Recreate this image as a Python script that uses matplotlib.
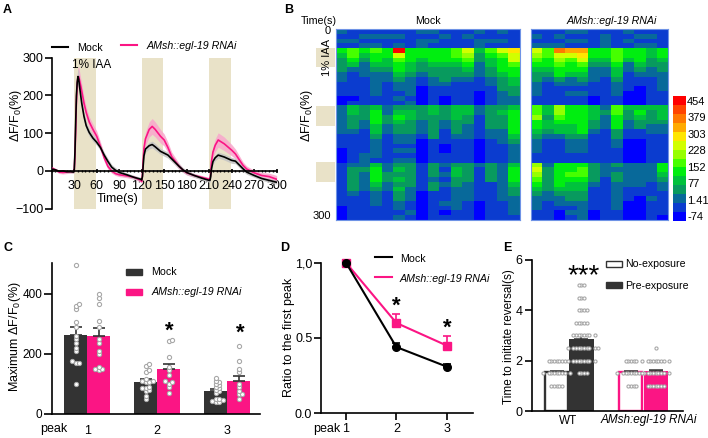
import numpy as np
import matplotlib
matplotlib.use('Agg')
import matplotlib.pyplot as plt
from matplotlib.colors import ListedColormap
from matplotlib.lines import Line2D
from matplotlib.patches import Rectangle

plt.rcParams['font.family'] = ['Liberation Sans', 'DejaVu Sans']
plt.rcParams['mathtext.default'] = 'regular'
plt.rcParams['axes.linewidth'] = 1.2

W, H = 708, 438
DARK = '#333333'
PINK = '#fb1584'
BEIGE = '#e9e2c8'
GREY = '#a8a8a8'

# panel A
t = [0, 5, 10, 15, 20, 25, 29, 30, 31, 32, 33, 34, 35, 36, 38, 40, 43, 46, 50, 55, 60, 65, 70, 75, 80, 85, 90, 100, 110, 119,
     120, 121, 122, 123, 125, 130, 134, 138, 145, 150, 155, 160, 165, 170, 175, 180, 190, 200, 210, 211,
     212, 213, 215, 218, 222, 230, 240, 245, 250, 255, 260, 270, 280, 290, 300]
mock_trace = [5, 3, -1, 0, -2, -2, -3, 0, 50, 130, 200, 235, 250, 243, 210, 180, 145, 120, 102, 87, 76, 62, 42, 25, 10, 2, -4, -10, -17, -22,
              -24, -15, 15, 40, 58, 67, 70, 64, 52, 47, 42, 32, 22, 12, 3, -4, -12, -19, -25, -25,
              -15, 5, 25, 35, 42, 37, 28, 26, 16, 6, -3, -12, -20, -25, -30]
rnai_trace = [8, 3, -3, -4, -3, -2, -2, 0, 40, 110, 190, 230, 248, 250, 232, 212, 180, 155, 130, 110, 92, 65, 35, 12, 0, -7, -10, -13, -17, -25,
              -28, -10, 30, 60, 85, 110, 118, 110, 92, 82, 62, 38, 25, 12, 2, -5, -12, -17, -22, -22,
              -5, 25, 50, 68, 82, 72, 55, 45, 30, 15, 5, -5, -12, -15, -22]
mock_sem = [3, 3, 3, 3, 3, 3, 3, 3, 6, 12, 18, 20, 22, 20, 16, 14, 12, 11, 10, 9, 8, 8, 8, 8, 7, 7, 6, 5, 5, 5,
            5, 5, 6, 7, 8, 9, 9, 9, 8, 8, 8, 8, 7, 7, 6, 6, 5, 5, 5, 5,
            5, 6, 7, 8, 8, 8, 8, 7, 7, 7, 6, 5, 5, 5, 5]
rnai_sem = [4, 4, 4, 4, 4, 4, 4, 4, 8, 14, 20, 24, 26, 26, 22, 20, 16, 15, 14, 14, 14, 12, 10, 8, 6, 5, 5, 5, 5, 5,
            5, 6, 10, 14, 18, 20, 21, 20, 18, 16, 14, 12, 10, 8, 6, 6, 5, 5, 5, 5,
            6, 10, 14, 17, 19, 18, 15, 13, 11, 9, 8, 7, 8, 9, 10]
stim_starts = [30, 120, 210]
stim_len = 29

# panel B, one string per animal, one level per row of 7.5 s
mock_cols = [
    '2121' '543332211100' '222222111000' '111111111000',
    '1121' '665421111101' '443332111111' '233333211111',
    '1212' '543222111111' '333221111122' '232222111111',
    '1212' '655432222211' '455544322221' '455543222111',
    '1211' '554432211111' '223322111111' '223322111111',
    '1212' 'd86554322121' '345433221212' '343434332212',
    '1111' '555443222212' '344333221212' '333332221121',
    '2122' '554332110000' '333222100000' '111111000000',
    '2121' '555433221111' '443333311111' '333233111111',
    '1211' '555433321100' '333221110011' '212121112101',
    '1111' '665433211111' '444333211111' '344332222211',
    '1211' '876543211111' '443322211111' '333322221111',
    '2122' '433222111000' '221111100000' '211111110000',
    '1121' '654433221111' '333332211111' '333311111111',
    '2121' '865554333222' '343332221111' '222222221111',
    '1111' '988655443322' '455555432222' '455543322221',
]
rnai_cols = [
    '1212' '876543322211' '667554322211' '787654322211',
    '1112' '665543211111' '443443211111' '233333221111',
    '1212' 'b87655321111' '776544211111' '555554322100',
    '2121' 'a86554221211' '555544322211' '556544332121',
    '2121' 'a98654321211' '555555322211' '566544332222',
    '1111' '554322211100' '444332111111' '333321111100',
    '1222' '554322111111' '232221111111' '222111111111',
    '1111' '666544322211' '665553322111' '323322222211',
    '2121' '554221111000' '433221100000' '222221110000',
    '1212' '555432110000' '454331100000' '222221100000',
    '1212' '443322111111' '433322111111' '222211121111',
    '1111' '554332222111' '444322111111' '554322111110',
]
level_colors = ['#0000ff', '#0b3ccf', '#08699a', '#089a5e', '#00c23c', '#00ee10', '#46ff00',
                '#96ff00', '#d2ff00', '#ffe600', '#ffaa00', '#ff7800', '#ff4400', '#ff0000']
cbar_labels = ['-74', '1.41', '77', '152', '228', '303', '379', '454']
stim_rows = [(47.7, 67.3), (106.3, 126.3), (162.3, 182.3)]

# panel C
peaks = ['1', '2', '3']
max_mock = [263, 107, 75]
max_mock_err = [25, 8, 8]
max_rnai = [258, 150, 110]
max_rnai_err = [27, 17, 16]
dots_mock = [[495, 365, 360, 350, 305, 290, 260, 250, 235, 220, 210, 175, 170, 170, 100],
             [165, 160, 145, 140, 115, 110, 108, 105, 105, 90, 85, 85, 80, 75, 60, 50],
             [120, 110, 105, 100, 95, 90, 85, 80, 75, 70, 50, 48, 45, 42, 40, 38]]
dots_rnai = [[400, 385, 365, 310, 290, 250, 235, 210, 200, 155, 150, 150, 145],
             [245, 243, 190, 155, 145, 130, 108, 105, 100, 90, 70],
             [225, 175, 150, 140, 100, 90, 75, 65, 65, 50]]

# panel D
ratio_mock = [1.0, 0.44, 0.31]
ratio_mock_err = [0.0, 0.03, 0.02]
ratio_rnai = [1.0, 0.60, 0.45]
ratio_rnai_err = [0.0, 0.06, 0.06]

# panel E
rev_groups = ['WT', 'AMsh:egl-19 RNAi']
rev_no = [1.55, 1.55]
rev_no_err = [0.05, 0.04]
rev_pre = [2.85, 1.6]
rev_pre_err = [0.12, 0.04]
rev_dots_no = [[1.0] * 5 + [1.5] * 9 + [2.0] * 7,
               [1.0] * 4 + [1.5] * 9 + [2.0] * 5]
rev_dots_pre = [[1.5] * 4 + [2.0] * 9 + [2.5] * 10 + [3.0] * 8 + [3.5] * 5 + [4.0] * 4 + [4.5] * 3 + [5.0] * 3,
                [1.0] * 7 + [1.5] * 9 + [2.0] * 9 + [2.5]]


def px_axes(left, top, right, bottom):
    return fig.add_axes([left / W, 1 - bottom / H, (right - left) / W, (bottom - top) / H])


def label(x, y, s, **kw):
    kw.setdefault('fontsize', 9)
    kw.setdefault('va', 'center')
    fig.text(x / W, 1 - y / H, s, **kw)


def legend_line(x0, x1, y, color):
    fig.add_artist(Line2D([x0 / W, x1 / W], [1 - y / H, 1 - y / H], color=color, lw=1.5))


def legend_box(x0, x1, y0, y1, face, edge):
    fig.add_artist(Rectangle((x0 / W, 1 - y1 / H), (x1 - x0) / W, (y1 - y0) / H, facecolor=face,
                             edgecolor=edge, lw=1.0, transform=fig.transFigure))


def swarm(values, center, step, yscale):
    # greedy dodge so the dots do not sit on each other
    placed = []
    for v in sorted(values):
        for k in range(60):
            off = ((k + 1) // 2) * step * (1 if k % 2 else -1)
            if all(np.hypot((off - o) / step, (v - w) / yscale) >= 1 for o, w in placed):
                placed.append((off, v))
                break
    return [center + o for o, w in placed], [w for o, w in placed]


def clean(ax):
    for s in ['top', 'right']:
        ax.spines[s].set_visible(False)
    ax.patch.set_alpha(0)


fig = plt.figure(figsize=(W / 100, H / 100), dpi=100)

# A
ax = px_axes(51.7, 57.7, 276.7, 208.7)
clean(ax)
for s in stim_starts:
    ax.axvspan(s, s + stim_len, color=BEIGE, lw=0, zorder=0)
t_arr = np.array(t)
for tr, sem, c, band in [(rnai_trace, rnai_sem, PINK, '#f9a6cc'), (mock_trace, mock_sem, 'black', '#c4c4c4')]:
    tr = np.array(tr)
    sem = np.array(sem)
    ax.fill_between(t_arr, tr - sem, tr + sem, color=band, alpha=0.85, lw=0, zorder=2)
    ax.plot(t_arr, tr, color=c, lw=1.2, zorder=3)
ax.set_xlim(0, 300)
ax.set_ylim(-100, 300)
ax.spines['bottom'].set_position(('data', 0))
ax.spines['bottom'].set_zorder(5)
ax.set_xticks(range(30, 301, 30))
ax.set_xticks(range(0, 301, 5), minor=True)
ax.set_yticks([-100, 0, 100, 200, 300])
ax.tick_params(axis='x', which='major', length=3, width=1.2, labelsize=9, pad=5, direction='inout')
ax.tick_params(axis='x', which='minor', length=2, width=1, direction='inout')
ax.tick_params(axis='y', length=5, width=1.2, labelsize=9, pad=1)
label(15.5, 115, r'ΔF/F$_0$(%)', rotation=90, ha='center')
label(118, 199.5, 'Time(s)', ha='center')
label(92, 65, '1% IAA', ha='center', fontsize=8.5)
legend_line(52, 68, 47, 'black')
label(77, 48, 'Mock', fontsize=7.7)
legend_line(121, 137, 44.5, PINK)
label(147, 46, 'AMsh::egl-19 RNAi', fontsize=7.7, style='italic')

# B
cmap = ListedColormap(level_colors)
for cols, box in [(mock_cols, (336, 29.3, 519.7, 220)), (rnai_cols, (531, 29.3, 668.3, 220))]:
    ax = px_axes(*box)
    grid = np.array([[int(ch, 16) for ch in col] for col in cols]).T
    ax.imshow(grid, cmap=cmap, vmin=-0.5, vmax=13.5, aspect='auto', interpolation='nearest')
    ax.set_xticks([])
    ax.set_yticks([])
    for s in ax.spines.values():
        s.set_color('#6f93e6')
        s.set_linewidth(0.8)
for y0, y1 in stim_rows:
    fig.add_artist(Rectangle((316 / W, 1 - y1 / H), 19 / W, (y1 - y0) / H, facecolor=BEIGE, lw=0,
                             transform=fig.transFigure))
label(319, 21, 'Time(s)', ha='center', fontsize=7.7)
label(428, 21, 'Mock', ha='center', fontsize=7.7)
label(611.7, 21, 'AMsh::egl-19 RNAi', ha='center', fontsize=7.7, style='italic')
label(331, 31, '0', ha='right', fontsize=8)
label(331, 216, '300', ha='right', fontsize=8)
label(326.5, 57, '1% IAA', ha='center', rotation=90, fontsize=8)
label(307, 115, r'ΔF/F$_0$(%)', ha='center', rotation=90)

cax = px_axes(672.7, 96, 685, 220.7)
cax.imshow(np.arange(14)[:, None], cmap=cmap, vmin=-0.5, vmax=13.5, origin='lower', aspect='auto',
           extent=(0, 1, -95.5, 477))
cax.set_xticks([])
cax.yaxis.tick_right()
cax.set_yticks(np.linspace(-74, 454, 8))
cax.set_yticklabels(cbar_labels)
cax.tick_params(axis='y', length=0, labelsize=8, pad=1.5)
for s in cax.spines.values():
    s.set_visible(False)

# C
ax = px_axes(52.3, 262.7, 260, 413.7)
clean(ax)
x = np.arange(1, 4)
bw = 0.33
ax.bar(x - bw / 2, max_mock, bw, color=DARK, lw=0, zorder=1)
ax.bar(x + bw / 2, max_rnai, bw, color=PINK, lw=0, zorder=1)
ax.errorbar(x - bw / 2, max_mock, yerr=[[0] * 3, max_mock_err], fmt='none', ecolor=DARK, elinewidth=1.2, capsize=4,
            capthick=1.2, zorder=2)
ax.errorbar(x + bw / 2, max_rnai, yerr=[[0] * 3, max_rnai_err], fmt='none', ecolor=DARK, elinewidth=1.2, capsize=4,
            capthick=1.2, zorder=2)
for i in range(3):
    for vals, cx in [(dots_mock[i], x[i] - bw / 2), (dots_rnai[i], x[i] + bw / 2)]:
        dx, dy = swarm(vals, cx, 0.05, 10)
        ax.scatter(dx, dy, s=9, facecolor='white', edgecolor=GREY, lw=0.8, zorder=3, clip_on=False)
ax.set_xlim(0.5, 3.467)
ax.set_ylim(0, 503)
ax.set_yticks([0, 200, 400])
ax.set_xticks(x)
ax.set_xticklabels(peaks)
ax.tick_params(axis='x', length=0, labelsize=9, pad=8)
ax.tick_params(axis='y', length=6, width=1.2, labelsize=8.5, pad=1)
label(15, 337, r'Maximum ΔF/F$_0$(%)', rotation=90, ha='center')
label(40, 429, 'peak')
for px_x, py in [(169, 331), (240, 333)]:
    label(px_x, py, '*', ha='center', fontsize=16, fontweight='bold')
legend_box(125.7, 142.3, 269, 275, DARK, DARK)
label(151, 272, 'Mock', fontsize=7.7)
legend_box(125.7, 142.3, 289, 295, PINK, PINK)
label(151.5, 292, 'AMsh::egl-19 RNAi', fontsize=7.7, style='italic')

# D
ax = px_axes(321.3, 262.7, 472.7, 413.3)
clean(ax)
ax.errorbar(x, ratio_mock, yerr=[[0] * 3, ratio_mock_err], color='black', marker='o', ms=5.5, lw=1.5,
            elinewidth=1.2, capsize=3, capthick=1.2, zorder=3, clip_on=False)
ax.errorbar(x, ratio_rnai, yerr=[[0] * 3, ratio_rnai_err], color=PINK, marker='s', ms=5.5, lw=1.5,
            elinewidth=1.2, capsize=3, capthick=1.2, zorder=2, clip_on=False)
ax.set_xlim(1 - 24.7 / 50.35, 3 + 26 / 50.35)
ax.set_ylim(0, 1)
ax.set_yticks([0, 0.5, 1])
ax.set_yticklabels(['0.0', '0.5', '1,0'])
ax.set_xticks(x)
ax.set_xticklabels(peaks)
ax.tick_params(axis='x', length=5, width=1.2, labelsize=9, pad=2)
ax.tick_params(axis='y', length=5, width=1.2, labelsize=9, pad=1.5)
label(289, 337, 'Ratio to the first peak', rotation=90, ha='center')
label(313, 429, 'peak')
for px_x, py in [(396.7, 306), (447, 328)]:
    label(px_x, py, '*', ha='center', fontsize=16, fontweight='bold')
legend_line(375, 391.7, 257.3, 'black')
label(400, 258.7, 'Mock', fontsize=7.7)
legend_line(375, 391.7, 277, PINK)
label(400, 279, 'AMsh::egl-19 RNAi', fontsize=7.7, style='italic')

# E
ax = px_axes(531.7, 259.7, 682.7, 411)
clean(ax)
centers = [0, 74.3]
be = 24.7
for i, cx in enumerate(centers):
    edge = DARK if i == 0 else PINK
    ax.bar(cx - be / 2 - 0.3, rev_no[i], be - 1.6, facecolor='white', edgecolor=edge, lw=1.7, zorder=1)
    ax.bar(cx + be / 2 + 0.3, rev_pre[i], be, color=edge, lw=0, zorder=1)
    ax.errorbar(cx - be / 2, rev_no[i], yerr=[[0], [rev_no_err[i]]], fmt='none', ecolor=DARK, elinewidth=1.1,
                capsize=5, capthick=1.1, zorder=2)
    ax.errorbar(cx + be / 2, rev_pre[i], yerr=[[0], [rev_pre_err[i]]], fmt='none', ecolor=DARK, elinewidth=1.1,
                capsize=5, capthick=1.1, zorder=2)
    for vals, bx in [(rev_dots_no[i], cx - be / 2), (rev_dots_pre[i], cx + be / 2)]:
        dx, dy = swarm(vals, bx, 2.7, 0.3)
        ax.scatter(dx, dy, s=5, facecolor='white', edgecolor=GREY, lw=0.8, zorder=3)
ax.set_xlim(-37.3, 113.7)
ax.set_ylim(0, 6)
ax.set_yticks([0, 2, 4, 6])
ax.set_xticks([])
ax.tick_params(axis='y', length=5, width=1.2, labelsize=9, pad=1.5)
label(568, 420.5, rev_groups[0], ha='center', fontsize=8.5)
label(648.5, 420.5, rev_groups[1], ha='center', fontsize=8.5, style='italic')
label(509, 337, 'Time to initiate reversal(s)', rotation=90, ha='center', fontsize=8.5)
label(583.5, 276, '***', ha='center', fontsize=20)
legend_box(606, 621.7, 261, 267, 'white', DARK)
label(625, 264, 'No-exposure', fontsize=7.6)
legend_box(606, 621.7, 281.7, 287.7, DARK, DARK)
label(625, 286, 'Pre-exposure', fontsize=7.6)

for s, px_x, py in [('A', 3, 10), ('B', 284, 10), ('C', 3, 248), ('D', 280, 248), ('E', 503, 248)]:
    label(px_x, py, s, fontsize=9, fontweight='bold')

fig.savefig('out.png', dpi=100)
